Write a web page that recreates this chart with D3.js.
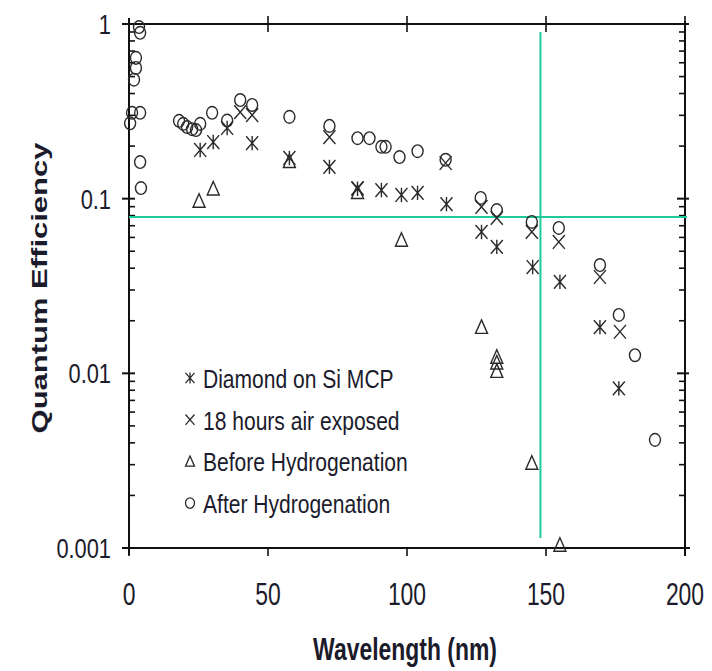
<!DOCTYPE html>
<html>
<head>
<meta charset="utf-8">
<script src="https://cdn.jsdelivr.net/npm/d3@7"></script>
<style>
  body { margin: 0; background: #fff; }
  svg text { font-family: "Liberation Sans", Arial, sans-serif; fill: #1b1b2b; }
</style>
</head>
<body>
<div id="chart"></div>
<script>
// wavelength (nm) / quantum efficiency, per series
const diamondX = [25.6, 30.3, 35.3, 44.3, 57.7, 72.1, 82.2, 90.8, 98.0, 103.8, 114.2, 126.8, 132.3, 145.2, 155.0, 169.4, 176.2];
const diamondY = [0.19, 0.211, 0.254, 0.208, 0.171, 0.152, 0.114, 0.112, 0.105, 0.108, 0.093, 0.0645, 0.053, 0.0406, 0.0334, 0.0184, 0.0082];

const airX = [40.0, 44.3, 72.1, 82.2, 113.9, 126.8, 132.3, 144.9, 154.6, 169.4, 176.6];
const airY = [0.313, 0.301, 0.225, 0.115, 0.16, 0.0897, 0.0776, 0.0645, 0.0565, 0.0356, 0.0173];

const beforeX = [25.2, 30.3, 57.7, 82.2, 98.0, 126.8, 132.3, 132.3, 132.3, 144.9, 155.0];
const beforeY = [0.097, 0.114, 0.164, 0.109, 0.058, 0.0184, 0.0124, 0.0115, 0.0103, 0.00307, 0.00104];

const afterX = [3.6, 4.0, 2.5, 2.5, 1.8, 1.1, 0.4, 4.0, 4.0, 4.3, 18.0, 19.5, 20.9, 22.7, 24.1, 25.6, 29.9, 35.3, 40.0, 44.3, 57.7, 72.1, 82.2, 86.5, 90.8, 92.3, 97.3, 103.8, 113.9, 126.5, 132.3, 144.9, 154.6, 169.4, 176.2, 182.0, 189.2];
const afterY = [0.96, 0.89, 0.64, 0.56, 0.48, 0.31, 0.27, 0.31, 0.162, 0.115, 0.279, 0.268, 0.257, 0.25, 0.247, 0.268, 0.31, 0.28, 0.367, 0.344, 0.294, 0.261, 0.222, 0.222, 0.198, 0.198, 0.173, 0.187, 0.167, 0.101, 0.086, 0.0736, 0.068, 0.0417, 0.0216, 0.0127, 0.00416];

const seriesNames = ["Diamond on Si MCP", "18 hours air exposed", "Before Hydrogenation", "After Hydrogenation"];
const xTicks = [0, 50, 100, 150, 200];
const yTicks = [1, 0.1, 0.01, 0.001];
const yTickLabels = ["1", "0.1", "0.01", "0.001"];
const cutQE = 0.0785;       // green horizontal line
const cutWavelength = 148;  // green vertical line

const width = 712, height = 671;
const margin = {top: 24, right: 27, bottom: 123, left: 129};
const ink = "#2a2a2a";
const green = "#1fc99a";

const svg = d3.select("#chart").append("svg")
    .attr("width", width)
    .attr("height", height);

const x = d3.scaleLinear().domain([0, 200]).range([margin.left, width - margin.right]);
const y = d3.scaleLog().domain([0.001, 1]).range([height - margin.bottom, margin.top]);

const x0 = x(0), x1 = x(200), y0 = y(0.001), y1 = y(1);

// the original figure is squeezed horizontally, so text is drawn condensed
const squeeze = (sel, sx) => sel.attr("transform", function() {
    const t = d3.select(this);
    return `translate(${t.attr("x")},${t.attr("y")}) scale(${sx},1)`;
}).attr("x", 0).attr("y", 0);

// minor ticks of the log axis
const minor = [];
[0.001, 0.01, 0.1].forEach(d => { for (let k = 2; k <= 9; k++) minor.push(d * k); });

const frame = svg.append("g").attr("stroke", "#111").attr("stroke-width", 2);

// frame lines
frame.append("line").attr("x1", x0).attr("x2", x0).attr("y1", y1 - 6).attr("y2", y0 + 7);
frame.append("line").attr("x1", x0 - 7).attr("x2", x1 + 5).attr("y1", y0).attr("y2", y0);
frame.append("line").attr("x1", x0 - 7).attr("x2", x1 + 3).attr("y1", y1).attr("y2", y1);
frame.append("line").attr("x1", x1).attr("x2", x1).attr("y1", y1 - 3).attr("y2", y0 + 8);

// left and right ticks
frame.selectAll(".ymaj").data(yTicks).join("g").each(function(d) {
    const g = d3.select(this);
    g.append("line").attr("x1", x0 - 7).attr("x2", x0 + 6).attr("y1", y(d)).attr("y2", y(d));
    g.append("line").attr("x1", x1 - 8).attr("x2", x1 + 4).attr("y1", y(d)).attr("y2", y(d));
});
frame.selectAll(".ymin").data(minor).join("g").each(function(d) {
    const g = d3.select(this);
    g.append("line").attr("x1", x0).attr("x2", x0 + 6).attr("y1", y(d)).attr("y2", y(d)).attr("stroke-width", 1.6);
    g.append("line").attr("x1", x1 - 6).attr("x2", x1).attr("y1", y(d)).attr("y2", y(d)).attr("stroke-width", 1.6);
});

// bottom and top ticks
frame.selectAll(".xt").data(xTicks).join("g").each(function(d) {
    const g = d3.select(this);
    g.append("line").attr("x1", x(d)).attr("x2", x(d)).attr("y1", y0).attr("y2", y0 + 8).attr("stroke-width", 1.6);
    if (d > 0) g.append("line").attr("x1", x(d)).attr("x2", x(d)).attr("y1", y1 - 8).attr("y2", y1 + 8).attr("stroke-width", 1.6);
});

// tick labels
svg.selectAll(".xl").data(xTicks).join("text")
    .attr("x", d => x(d))
    .attr("y", y0 + 57)
    .attr("text-anchor", "middle")
    .attr("font-size", 31)
    .text(d => d)
    .call(squeeze, 0.74);

svg.selectAll(".yl").data(yTicks).join("text")
    .attr("x", x0 - 18)
    .attr("y", d => y(d) + 10)
    .attr("text-anchor", "end")
    .attr("font-size", 28)
    .text((d, i) => yTickLabels[i])
    .call(squeeze, 0.78);

// axis titles
svg.append("text")
    .attr("x", 405)
    .attr("y", 660)
    .attr("text-anchor", "middle")
    .attr("font-size", 31)
    .attr("font-weight", "bold")
    .text("Wavelength (nm)")
    .call(squeeze, 0.74);

svg.append("text")
    .attr("transform", `translate(47, 288) scale(0.74,1) rotate(-90)`)
    .attr("text-anchor", "middle")
    .attr("font-size", 31)
    .attr("font-weight", "bold")
    .text("Quantum Efficiency");

// green reference lines
svg.append("line")
    .attr("x1", x0).attr("x2", x1 + 2)
    .attr("y1", y(cutQE)).attr("y2", y(cutQE))
    .attr("stroke", green).attr("stroke-width", 2);
svg.append("line")
    .attr("x1", x(cutWavelength)).attr("x2", x(cutWavelength))
    .attr("y1", 32).attr("y2", y0 - 10)
    .attr("stroke", green).attr("stroke-width", 2);

// marker path generators, s = half size
const markers = {
    aster: s => `M${-s},${-s * 1.15}L${s},${s * 1.15}M${s},${-s * 1.15}L${-s},${s * 1.15}M0,${-s * 1.2}V${s * 1.2}`,
    cross: s => `M${-s},${-s * 1.15}L${s},${s * 1.15}M${s},${-s * 1.15}L${-s},${s * 1.15}`,
    tri: s => `M0,${-s * 1.2}L${s},${s * 1.05}L${-s},${s * 1.05}Z`,
    circ: s => `M${s},0A${s},${s * 1.15} 0 1 1 ${-s},0A${s},${s * 1.15} 0 1 1 ${s},0Z`
};

const series = [
    {name: seriesNames[0], xs: diamondX, ys: diamondY, shape: "aster"},
    {name: seriesNames[1], xs: airX, ys: airY, shape: "cross"},
    {name: seriesNames[2], xs: beforeX, ys: beforeY, shape: "tri"},
    {name: seriesNames[3], xs: afterX, ys: afterY, shape: "circ"}
];

const pts = svg.append("g");
series.forEach(s => {
    pts.append("g").selectAll("path")
        .data(s.xs.map((v, i) => [v, s.ys[i]]))
        .join("path")
        .attr("transform", d => `translate(${x(d[0])},${y(d[1])})`)
        .attr("d", markers[s.shape](s.shape === "circ" ? 5.5 : 6))
        .attr("fill", "none")
        .attr("stroke", ink)
        .attr("stroke-width", 1.4);
});

// legend
const legend = svg.append("g");
series.forEach((s, i) => {
    const ly = 378 + i * 41.7;
    legend.append("path")
        .attr("transform", `translate(190,${ly})`)
        .attr("d", markers[s.shape](4.5))
        .attr("fill", "none")
        .attr("stroke", ink)
        .attr("stroke-width", 1.3);
    legend.append("text")
        .attr("x", 203)
        .attr("y", ly + 10)
        .attr("font-size", 26)
        .text(s.name)
        .call(squeeze, 0.81);
});
</script>
</body>
</html>
